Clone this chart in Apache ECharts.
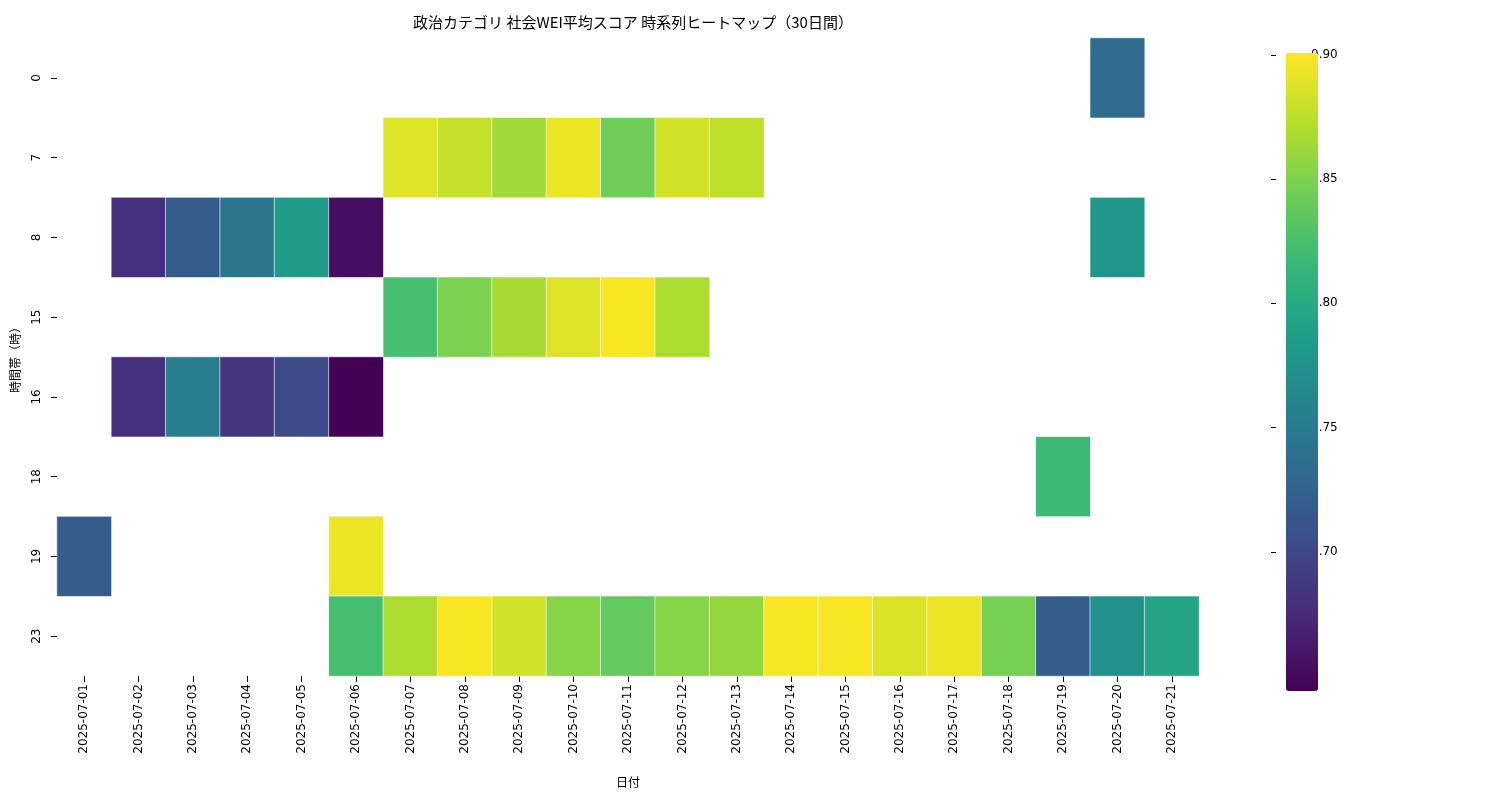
<!DOCTYPE html>
<html><head><meta charset="utf-8">
<script src="https://cdn.jsdelivr.net/npm/echarts@6/dist/echarts.min.js"></script>
<style>html,body{margin:0;padding:0;background:#fff}#c{width:1500px;height:800px}</style>
</head><body><div id="c"></div>
<script>
const dates = ['2025-07-01','2025-07-02','2025-07-03','2025-07-04','2025-07-05','2025-07-06','2025-07-07','2025-07-08','2025-07-09','2025-07-10','2025-07-11','2025-07-12','2025-07-13','2025-07-14','2025-07-15','2025-07-16','2025-07-17','2025-07-18','2025-07-19','2025-07-20','2025-07-21'];
const hours = ['0','7','8','15','16','18','19','23'];
// [dateIndex, hourIndex, value]
const row0 = [[19,0.735]];
const row7 = [[6,0.89],[7,0.88],[8,0.865],[9,0.895],[10,0.845],[11,0.885],[12,0.877]];
const row8 = [[1,0.68],[2,0.72],[3,0.745],[4,0.785],[5,0.655],[19,0.78]];
const row15 = [[6,0.825],[7,0.85],[8,0.868],[9,0.89],[10,0.9],[11,0.87]];
const row16 = [[1,0.68],[2,0.755],[3,0.685],[4,0.705],[5,0.646]];
const row18 = [[18,0.82]];
const row19 = [[0,0.72],[5,0.895]];
const row23 = [[5,0.825],[6,0.87],[7,0.9],[8,0.885],[9,0.855],[10,0.84],[11,0.855],[12,0.86],[13,0.9],[14,0.9],[15,0.888],[16,0.895],[17,0.848],[18,0.72],[19,0.775],[20,0.795]];
const rows = [row0,row7,row8,row15,row16,row18,row19,row23];
const vMin = 0.6452, vMax = 0.902;
const data = [];
rows.forEach((r,hi)=>r.forEach(([d,v])=>data.push([d,hi,v])));
const viridis = ['#440154','#482878','#3e4989','#31688e','#26828e','#1f9e89','#35b779','#6ece58','#b5de2b','#fde725'];
const font = 'Noto Sans CJK JP';
const chart = echarts.init(document.getElementById('c'));
chart.setOption({
  textStyle:{fontFamily:font},
  title:{text:'政治カテゴリ 社会WEI平均スコア 時系列ヒートマップ（30日間）',left:628,top:10,textAlign:'center',textStyle:{fontSize:15,fontWeight:'normal',color:'#000',fontFamily:font}},
  grid:[{left:57,top:38,width:1142,height:638},{left:1271,top:38,width:32,height:638}],
  xAxis:[{type:'category',data:dates,gridIndex:0,name:'日付',nameLocation:'middle',nameGap:100,nameTextStyle:{color:'#000',fontSize:12},
    axisLine:{show:false},axisTick:{show:true,alignWithLabel:true,length:6,lineStyle:{color:'#000'}},axisLabel:{rotate:90,color:'#000',fontSize:12,fontFamily:'DejaVu Sans'},splitLine:{show:false}},
    {type:'value',gridIndex:1,show:false,min:0,max:1}],
  yAxis:[{type:'category',data:hours,inverse:true,gridIndex:0,name:'時間帯（時）',nameLocation:'middle',nameGap:36,nameRotate:90,nameTextStyle:{color:'#000',fontSize:12},
    axisLine:{show:false},axisTick:{show:true,alignWithLabel:true,length:6,lineStyle:{color:'#000'}},axisLabel:{rotate:90,color:'#000',fontSize:12,fontFamily:'DejaVu Sans',margin:14},splitLine:{show:false}},
    {type:'value',gridIndex:1,position:'right',min:vMin,max:vMax,interval:0.05,
    axisLine:{show:false},axisTick:{show:true,length:5,lineStyle:{color:'#000'}},splitLine:{show:false},
    axisLabel:{color:'#000',fontSize:12,fontFamily:'DejaVu Sans',formatter:v=>(Math.abs(v-vMin)<1e-6||Math.abs(v-vMax)<1e-6)?'':v.toFixed(2),showMinLabel:false,showMaxLabel:false}}],
  visualMap:{type:'continuous',min:vMin,max:vMax,seriesIndex:0,calculable:false,left:1271,top:38,itemWidth:32,itemHeight:638,text:['',''],inRange:{color:viridis},show:true},
  series:[{type:'heatmap',data:data,xAxisIndex:0,yAxisIndex:0,itemStyle:{borderColor:'#fff',borderWidth:0.6},emphasis:{disabled:true}}]
});
</script></body></html>
